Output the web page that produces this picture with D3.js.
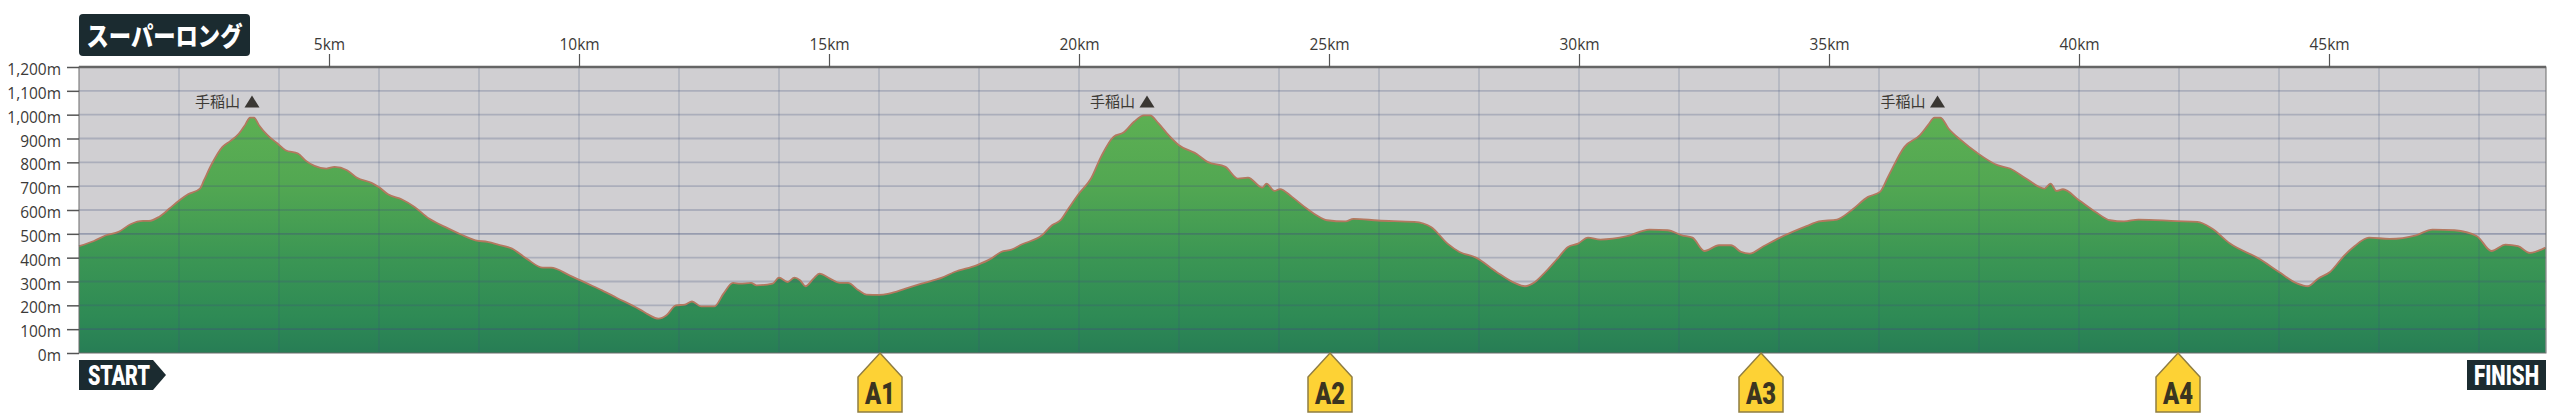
<!DOCTYPE html>
<html><head><meta charset="utf-8">
<script src="https://cdnjs.cloudflare.com/ajax/libs/d3/7.8.5/d3.min.js"></script>
<style>
html,body{margin:0;padding:0;background:#fff;overflow:hidden}
svg{display:block}
.tk text{font-family:"Open Sans",sans-serif;font-size:17px;fill:#3c3a38;font-weight:500}
</style></head><body>
<svg id="c" width="2560" height="417"></svg>
<script>
const distanceKm=[0,.3,.54,.79,1.03,1.28,1.4,1.6,1.81,2.01,2.18,2.42,2.5,2.66,2.87,3.03,3.2,3.32,3.42,3.5,3.6,3.77,3.97,4.13,4.38,4.54,4.71,4.95,5.11,5.36,5.56,5.85,6.01,6.18,6.46,6.71,7,7.32,7.64,7.93,8.17,8.38,8.66,8.95,9.28,9.44,9.81,10.17,10.46,10.75,11.22,11.38,11.59,11.75,11.94,12.12,12.26,12.44,12.71,12.89,13.08,13.22,13.44,13.55,13.87,14,14.17,14.31,14.42,14.53,14.69,14.81,15.02,15.22,15.38,15.59,15.75,16,16.2,16.53,16.85,17.26,17.51,17.95,18.24,18.44,18.65,18.85,19.26,19.46,19.63,19.79,20,20.24,20.44,20.69,20.89,21.1,21.3,21.42,21.59,21.75,22,22.36,22.57,22.93,23.18,23.38,23.67,23.75,23.91,24.02,24.26,24.51,24.75,24.96,25.33,25.49,25.98,26.71,27.04,27.37,27.61,27.94,28.35,28.71,28.92,29.12,29.33,29.57,29.78,29.98,30.18,30.43,30.96,31.41,31.77,32.06,32.27,32.51,32.8,33.04,33.24,33.41,33.69,34.02,34.55,34.8,35.16,35.45,35.78,36.02,36.18,36.51,36.82,36.98,37.11,37.23,37.39,37.64,37.96,38.37,38.62,38.94,39.31,39.43,39.55,39.68,40,40.33,40.62,40.9,41.19,41.96,42.37,42.66,43.02,43.6,44,44.37,44.58,44.78,45.02,45.31,45.51,45.8,46.21,46.74,47.07,47.51,47.96,48.25,48.53,48.78,49.02,49.33];
const elevationM=[448,470,494,508,540,554,554,571,606,641,666,690,725,795,865,890,921,956,988,988,956,914,879,851,837,806,785,774,781,767,735,714,694,666,644,613,564,529,497,473,466,455,438,396,358,358,326,291,263,232,182,162,144,158,200,203,216,196,196,249,294,291,294,284,291,316,298,316,305,280,312,333,312,294,294,263,245,244,249,270,291,316,340,368,396,424,434,455,494,536,557,606,669,732,823,907,925,970,997,997,963,924,872,834,802,781,732,736,694,711,680,688,655,613,578,557,552,563,556,550,529,459,424,400,340,294,280,298,340,396,445,459,484,476,490,518,515,494,484,428,452,452,424,417,448,484,532,552,560,599,655,676,739,865,914,956,988,988,942,893,840,788,774,732,690,711,680,687,641,592,557,552,560,553,550,522,459,396,340,291,280,312,340,410,448,484,479,494,518,515,490,428,455,448,420,442];
const elevationTicks=[0,100,200,300,400,500,600,700,800,900,1000,1100,1200];
const kmTicks=[5,10,15,20,25,30,35,40,45];
const gridKm=[2,4,6,8,10,12,14,16,18,20,22,24,26,28,30,32,34,36,38,40,42,44,46,48];
const aidNames=["A1","A2","A3","A4"];
const aidKm=[16.02,25.02,33.64,41.98];
const peakName="手稲山";
const peakKm=[3.46,21.36,37.17];
const peakOffsetM=1055;
const courseTitle="スーパーロング";

const L=79,R=2546,T=67,B=353;
const x=d3.scaleLinear().domain([0,49.34]).range([L,R]);
const y=d3.scaleLinear().domain([0,1200]).range([B,T]);
const svg=d3.select("#c");
const defs=svg.append("defs");
const g=defs.append("linearGradient").attr("id","gr").attr("gradientUnits","userSpaceOnUse")
 .attr("x1",0).attr("x2",0).attr("y1",y(1000)).attr("y2",y(0));
[[0,"#5db053"],[.3,"#52a752"],[.6,"#3b9654"],[.85,"#2e8a55"],[1,"#277d55"]].forEach(s=>g.append("stop").attr("offset",s[0]).attr("stop-color",s[1]));

svg.append("rect").attr("x",L).attr("y",T).attr("width",R-L).attr("height",B-T).attr("fill","#d0cfd2");
const data=distanceKm.map((d,i)=>[d,elevationM[i]]);
const area=d3.area().curve(d3.curveMonotoneX).x(d=>x(d[0])).y0(B).y1(d=>y(d[1]));
const line=d3.line().curve(d3.curveMonotoneX).x(d=>x(d[0])).y(d=>y(d[1]));
svg.append("path").attr("d",area(data)).attr("fill","url(#gr)");

svg.selectAll(".h").data(elevationTicks.filter(d=>d>0&&d<1200)).join("line")
 .attr("x1",L).attr("x2",R).attr("y1",d=>y(d)).attr("y2",d=>y(d))
 .attr("stroke","#40507a").attr("stroke-width",1.8)
 .attr("stroke-opacity",d=>(d===100||d===500)?.4:.26);
svg.selectAll(".v").data(gridKm).join("line")
 .attr("x1",d=>x(d)).attr("x2",d=>x(d)).attr("y1",T).attr("y2",B)
 .attr("stroke","#40507a").attr("stroke-width",1.4).attr("stroke-opacity",.24);

svg.append("path").attr("d",line(data)).attr("fill","none").attr("stroke","#b4785f").attr("stroke-width",1.8).attr("stroke-linejoin","round");

svg.append("rect").attr("x",L).attr("y",T).attr("width",R-L).attr("height",B-T).attr("fill","none").attr("stroke","#6b6b6b").attr("stroke-width",1);
svg.append("line").attr("x1",L).attr("x2",R).attr("y1",T).attr("y2",T).attr("stroke","#656565").attr("stroke-width",2.4);

const ay=svg.append("g").attr("class","tk").attr("transform",`translate(${L},0)`)
 .call(d3.axisLeft(y).tickValues(elevationTicks).tickSize(12).tickPadding(6).tickFormat(d=>d3.format(",")(d)+"m"));
ay.select(".domain").remove();
ay.selectAll("line").attr("stroke","#555").attr("stroke-width",1.5);
ay.selectAll("text").attr("dy","0.45em");
const ax=svg.append("g").attr("class","tk").attr("transform",`translate(0,${T})`)
 .call(d3.axisTop(x).tickValues(kmTicks).tickSize(13).tickPadding(4).tickFormat(d=>d+"km"));
ax.select(".domain").remove();
ax.selectAll("line").attr("stroke","#555").attr("stroke-width",1.2);
svg.selectAll(".tk text").each(function(){
 const w=this.getComputedTextLength();
 d3.select(this).attr("textLength",w*.91).attr("lengthAdjust","spacingAndGlyphs");
});

// title
svg.append("rect").attr("x",79).attr("y",14).attr("width",171).attr("height",42).attr("rx",4).attr("fill","#1b2b30");
svg.append("text").attr("x",164.5).attr("y",46).attr("text-anchor","middle").attr("fill","#fff")
 .attr("font-family","'Noto Sans CJK JP'").attr("font-weight",900).attr("font-size",26).attr("textLength",156).attr("lengthAdjust","spacingAndGlyphs").text(courseTitle);

// start / finish: squeezed horizontally to the width of their plates
function squeezed(label,left,base,width){
 const t=svg.append("text").attr("fill","#fff").attr("font-family","Roboto").attr("font-weight",900).attr("font-size",28).text(label);
 const k=width/t.node().getComputedTextLength();
 t.attr("transform",`translate(${left},${base}) scale(${k},1)`);
}
svg.append("path").attr("d",d3.line()([[79,360],[153,360],[166,375],[153,390],[79,390]])+"Z").attr("fill","#1b2b30");
squeezed("START",88,385,62);
svg.append("rect").attr("x",2467).attr("y",360).attr("width",79).attr("height",30).attr("fill","#1b2b30");
squeezed("FINISH",2474,385,65);

// aid stations
const aid=svg.selectAll(".aid").data(aidNames).join("g").attr("transform",(d,i)=>`translate(${x(aidKm[i])},353)`);
aid.append("path").attr("d",d3.line()([[0,0],[22,24],[22,59],[-22,59],[-22,24]])+"Z").attr("fill","#fdd235").attr("stroke","#8f7d42").attr("stroke-width",1.5);
aid.append("text").attr("y",51).attr("text-anchor","middle").attr("fill","#3b3520").attr("font-family","Roboto").attr("font-weight",900).attr("font-size",32).attr("textLength",30).attr("lengthAdjust","spacingAndGlyphs").text(d=>d);

// peaks
const pk=svg.selectAll(".pk").data(peakKm).join("g").attr("transform",d=>`translate(${x(d)},${y(peakOffsetM)})`);
pk.append("text").attr("x",-12).attr("y",5.5).attr("text-anchor","end").attr("fill","#3d3a35").attr("font-family","'Noto Sans CJK JP'").attr("font-size",15).text(peakName);
pk.append("path").attr("d",d3.line()([[-7.5,6],[0,-6],[7.5,6]])+"Z").attr("fill","#3a3733");
</script></body></html>
